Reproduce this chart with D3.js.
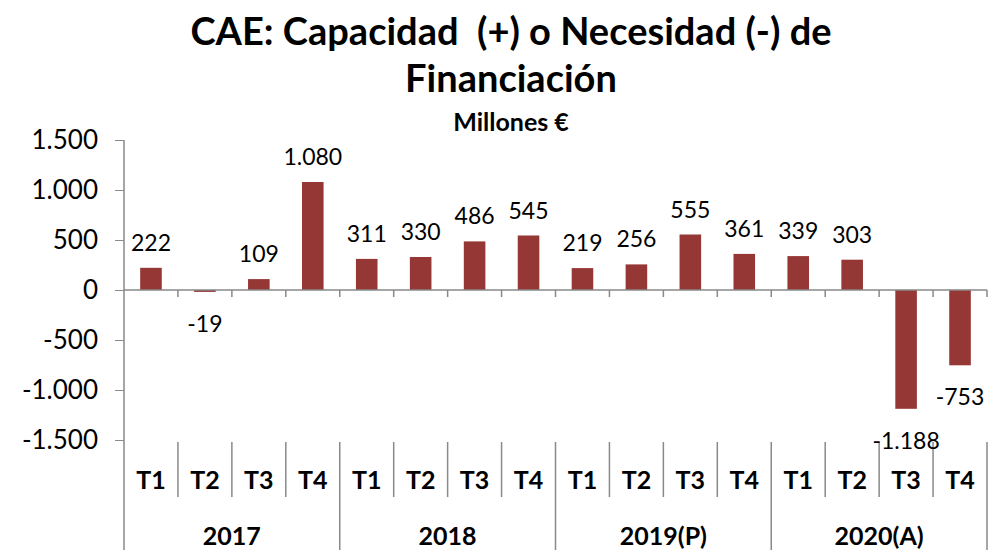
<!DOCTYPE html>
<html>
<head>
<meta charset="utf-8">
<script src="https://cdn.jsdelivr.net/npm/d3@7"></script>
<style>
  body { margin: 0; background: #fff; }
  svg { display: block; font-family: Lato, "Open Sans", sans-serif; }
</style>
</head>
<body>
<svg id="chart" width="994" height="550"></svg>
<script>
// chart data
var quarters = ["T1", "T2", "T3", "T4"];
var years = ["2017", "2018", "2019(P)", "2020(A)"];
var values = [222, -19, 109, 1080, 311, 330, 486, 545, 219, 256, 555, 361, 339, 303, -1188, -753];
var yTicks = [-1500, -1000, -500, 0, 500, 1000, 1500];
var titleLines = ["CAE: Capacidad  (+) o Necesidad (-) de", "Financiación"];
var subtitle = "Millones €";

var svg = d3.select("#chart");
var margin = { left: 124, right: 987, top: 140, bottom: 440 };
var axisColor = "#898989";
var barColor = "#953735";

// spanish number format: 1.080 / -1.188
var es = d3.formatLocale({ decimal: ",", thousands: ".", grouping: [3], currency: ["", " €"], minus: "-" });
var fmt = es.format(",d");

// one slot per quarter
var cats = [];
years.forEach(function(yr, yi) {
  quarters.forEach(function(q, qi) {
    cats.push({ year: yr, q: q, i: yi * quarters.length + qi, value: values[yi * quarters.length + qi] });
  });
});

var x = d3.scaleBand()
  .domain(cats.map(d => d.i))
  .range([margin.left, margin.right])
  .paddingInner(0.6)
  .paddingOuter(0.3);
var step = x.step();

var y = d3.scaleLinear()
  .domain([-1500, 1500])
  .range([margin.bottom, margin.top]);

// titles
svg.selectAll(".title")
  .data(titleLines)
  .enter().append("text")
  .attr("class", "title")
  .attr("x", 511)
  .attr("y", (d, i) => 45 + i * 47)
  .attr("text-anchor", "middle")
  .style("white-space", "pre")
  .style("font-weight", "bold")
  .style("font-size", "38px")
  .text(d => d);

svg.append("text")
  .attr("x", 511)
  .attr("y", 131)
  .attr("text-anchor", "middle")
  .style("font-weight", "bold")
  .style("font-size", "25px")
  .text(subtitle);

// y axis
var yAxis = svg.append("g")
  .attr("transform", "translate(" + margin.left + ",0)")
  .call(d3.axisLeft(y).tickValues(yTicks).tickFormat(fmt).tickSize(9).tickPadding(17));
yAxis.select(".domain").remove();
yAxis.selectAll(".tick line").attr("stroke", axisColor);
yAxis.selectAll(".tick text")
  .attr("fill", "#000")
  .style("font-family", "Lato, sans-serif")
  .style("font-size", "26px");

// vertical axis line runs down through the category labels
svg.append("line")
  .attr("x1", margin.left).attr("x2", margin.left)
  .attr("y1", margin.top).attr("y2", 550)
  .attr("stroke", axisColor).attr("stroke-width", 1.5);

// bars
svg.selectAll(".bar")
  .data(cats)
  .enter().append("rect")
  .attr("class", "bar")
  .attr("x", d => x(d.i))
  .attr("width", x.bandwidth())
  .attr("y", d => y(Math.max(0, d.value)))
  .attr("height", d => Math.abs(y(d.value) - y(0)))
  .attr("fill", barColor);

// zero line with ticks at category boundaries
svg.append("line")
  .attr("x1", margin.left).attr("x2", margin.right)
  .attr("y1", y(0)).attr("y2", y(0))
  .attr("stroke", axisColor).attr("stroke-width", 1.5);
svg.selectAll(".ztick")
  .data(d3.range(1, cats.length + 1))
  .enter().append("line")
  .attr("x1", d => margin.left + d * step).attr("x2", d => margin.left + d * step)
  .attr("y1", y(0)).attr("y2", y(0) + 7)
  .attr("stroke", axisColor).attr("stroke-width", 1.5);

// category separators: quarters short, years long
var labTop = 442;
svg.selectAll(".sep")
  .data(d3.range(1, cats.length + 1))
  .enter().append("line")
  .attr("x1", d => margin.left + d * step).attr("x2", d => margin.left + d * step)
  .attr("y1", labTop)
  .attr("y2", d => d % quarters.length === 0 ? 550 : 497)
  .attr("stroke", axisColor).attr("stroke-width", 1.5);

svg.selectAll(".qlab")
  .data(cats)
  .enter().append("text")
  .attr("x", d => x(d.i) + x.bandwidth() / 2)
  .attr("y", 479)
  .attr("text-anchor", "middle")
  .attr("dominant-baseline", "central")
  .style("font-weight", "bold")
  .style("font-size", "25px")
  .text(d => d.q);

svg.selectAll(".ylab")
  .data(years)
  .enter().append("text")
  .attr("x", (d, i) => margin.left + (i + 0.5) * quarters.length * step)
  .attr("y", 535)
  .attr("text-anchor", "middle")
  .attr("dominant-baseline", "central")
  .style("font-weight", "bold")
  .style("font-size", "25px")
  .text(d => d);

// value labels
svg.selectAll(".val")
  .data(cats)
  .enter().append("text")
  .attr("x", d => x(d.i) + x.bandwidth() / 2)
  .attr("y", d => d.value >= 0 ? y(d.value) - 26 : y(d.value) + 31)
  .attr("text-anchor", "middle")
  .attr("dominant-baseline", "central")
  .style("font-size", "23px")
  .text(d => fmt(d.value));
</script>
</body>
</html>
